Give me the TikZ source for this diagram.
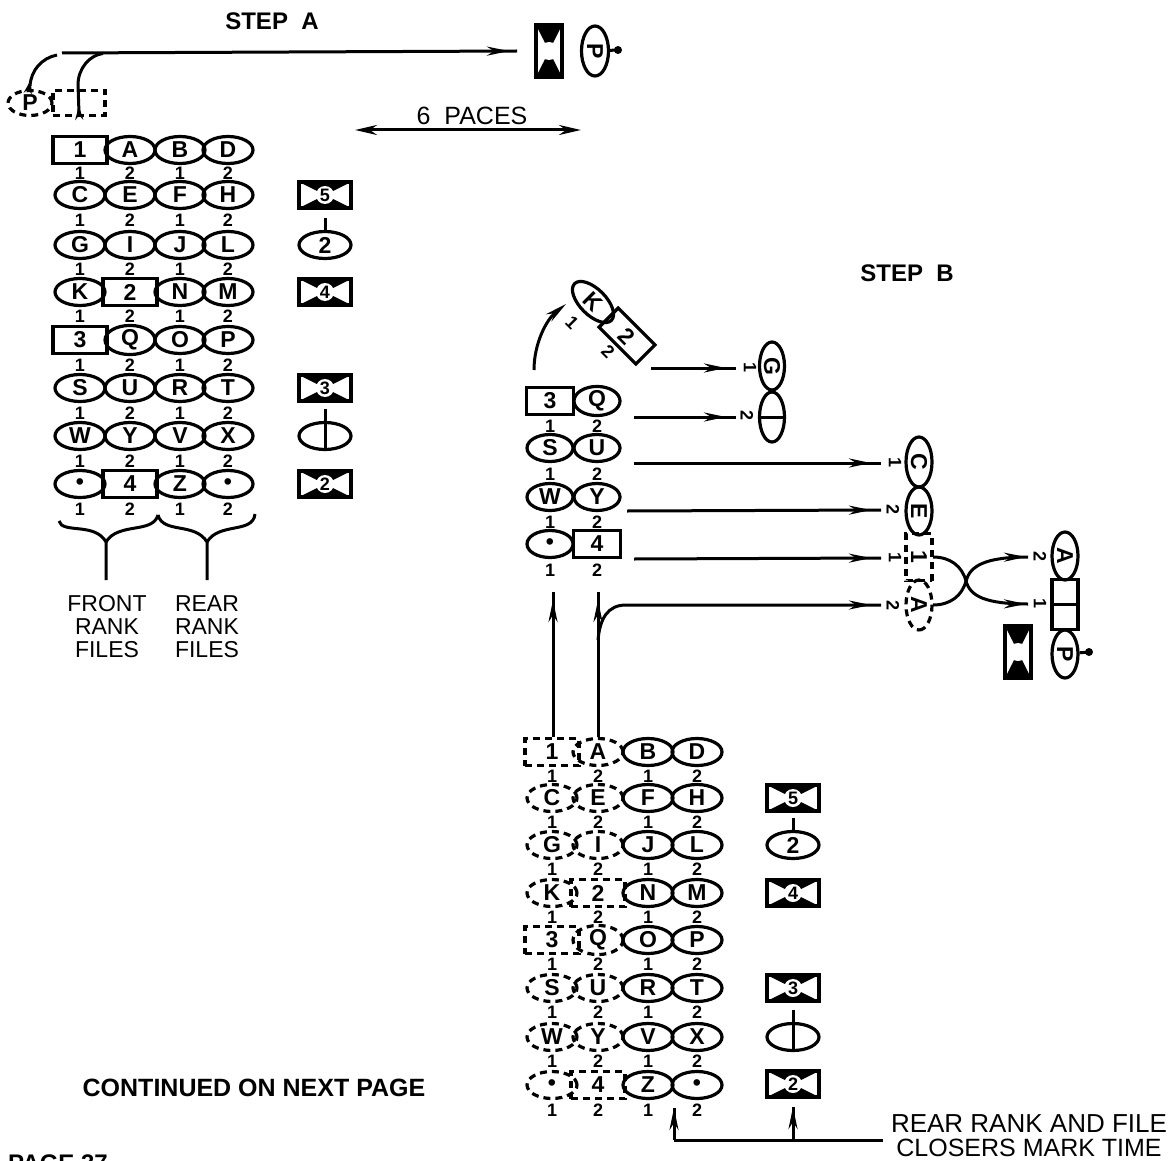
\documentclass[tikz,border=0pt]{standalone}
\usepackage{fontspec}
\setmainfont{Liberation Sans}
\usetikzlibrary{shapes.geometric,arrows.meta,decorations.markings}
\tikzset{
  x=1pt,y=-1pt,
  base/.style={line width=3.2pt,inner sep=0pt,font=\fontsize{23}{23}\selectfont\bfseries},
  ell/.style={base,draw,ellipse,minimum width=50pt,minimum height=27pt},
  rct/.style={base,draw,rectangle,minimum width=54pt,minimum height=27pt},
  dashy/.style={dash pattern=on 7pt off 5pt},
  dell/.style={ell,dashy},
  drct/.style={rct,dashy},
  smallell/.style={ell,minimum width=46pt},
  smallrct/.style={rct,minimum width=47pt},
  num/.style={inner sep=0pt,font=\fontsize{18}{18}\selectfont\bfseries},
  lab/.style={inner sep=0pt,font=\fontsize{23}{23}\selectfont},
  wlab/.style={inner sep=0pt,font=\fontsize{26}{26}\selectfont},
  blab/.style={inner sep=0pt,font=\fontsize{24}{24}\selectfont\bfseries},
  closer/.style={draw,rectangle,line width=4pt,minimum width=52pt,minimum height=26pt,inner sep=0pt,
    font=\fontsize{18}{18}\selectfont\bfseries,
    path picture={
      \fill (path picture bounding box.north west) -- (path picture bounding box.north east) -- (path picture bounding box.center) -- cycle;
      \fill (path picture bounding box.south west) -- (path picture bounding box.south east) -- (path picture bounding box.center) -- cycle;
      \fill[white] (path picture bounding box.center) circle[radius=9pt];
      \begin{scope}[shift={(path picture bounding box.center)},white]
        \fill (-12,-6) -- (-5,-6) -- (-6,-10) -- cycle;
        \fill (12,-6) -- (5,-6) -- (6,-10) -- cycle;
        \fill (-12,6) -- (-5,6) -- (-6,10) -- cycle;
        \fill (12,6) -- (5,6) -- (6,10) -- cycle;
      \end{scope}
    }},
  wire/.style={line width=3pt},
  flow/.style={wire,postaction={decorate},decoration={markings,mark=at position #1 with {\arrow{Stealth[length=22pt,width=9pt]}}}},
  flow/.default={-10pt},
  back/.style={wire,postaction={decorate},decoration={markings,mark=at position #1 with {\arrow{Stealth[length=14pt,width=8pt]}}}},
}
\newcommand\frow[8]{%
  \node[#3] (#1a) at (\xa,#2) {#4};
  \node[#5] (#1b) at (\xb,#2) {#6};
  \node[ell] (#1c) at (\xc,#2) {#7};
  \node[ell] (#1d) at (\xd,#2) {#8};
}
\newcommand\nrow[2]{%
  \node[num] (#1a) at (\xa,#2) {1};
  \node[num] (#1b) at (\xb,#2) {2};
  \node[num] (#1c) at (\xc,#2) {1};
  \node[num] (#1d) at (\xd,#2) {2};
}
\newcommand\leader[5]{% name, x, y, digit, stem end anchor
  \node[ell,minimum width=52pt] (#1) at (#2,#3) {#4};
  \coordinate (#1top) at (#2,#3-27);
  \draw[wire] (#1top) -- (#1.#5);
}
\begin{document}
\begin{tikzpicture}
\useasboundingbox (0,0) rectangle (1172,1161);
\fill[white] (0,0) rectangle (1172,1161);

% ---------- headings
\node[blab] (stepa) at (272,21) {STEP\ \ A};
\node[blab] (stepb) at (907,273) {STEP\ \ B};
\node[inner sep=0pt,font=\fontsize{25}{25}\selectfont] (paces) at (472,116) {6\ \ PACES};
\node[inner sep=0pt,font=\fontsize{25}{25}\selectfont\bfseries] (cont) at (254,1088) {CONTINUED ON NEXT PAGE};
\node[blab,anchor=north west] (page) at (8,1155) {PAGE 37};

% ---------- step A: first formation
\def\xa{80}\def\xb{130}\def\xc{180}\def\xd{228}
\frow{La}{150}{rct}{1}{ell}{A}{B}{D}
\frow{Lb}{195}{ell}{C}{ell}{E}{F}{H}
\frow{Lc}{245}{ell}{G}{ell}{I}{J}{L}
\frow{Ld}{292}{ell}{K}{rct}{2}{N}{M}
\frow{Le}{340}{rct}{3}{ell}{Q}{O}{P}
\frow{Lf}{388}{ell}{S}{ell}{U}{R}{T}
\frow{Lg}{436}{ell}{W}{ell}{Y}{V}{X}
\frow{Lh}{484}{ell}{\textbullet}{rct}{4}{Z}{\textbullet}
\nrow{Na}{173}\nrow{Nb}{220}\nrow{Nc}{269}\nrow{Nd}{316}
\nrow{Ne}{365}\nrow{Nf}{413}\nrow{Ng}{461}\nrow{Nh}{509}
\node[closer] (Lc5) at (325,195) {5};
\leader{Lc2}{325}{245}{2}{north}
\node[closer] (Lc4) at (325,292) {4};
\node[closer] (Lc3) at (325,388) {3};
\leader{Lc1}{325}{436}{}{south}
\node[closer] (Lc0) at (325,484) {2};

% braces
\coordinate (brL) at (59,521);
\coordinate (brM) at (158,515);
\coordinate (brR) at (255,514);
\coordinate (brA) at (106,580);
\coordinate (brB) at (207,580);
\draw[wire] (brL) .. controls (62,534) and (95,522) .. (106,542) -- (brA);
\draw[wire] (brM) .. controls (153,534) and (118,522) .. (106,542);
\draw[wire] (brM) .. controls (163,534) and (195,522) .. (207,542) -- (brB);
\draw[wire] (brR) .. controls (253,534) and (219,522) .. (207,542);
\node[lab] (fr1) at (107,604) {FRONT};
\node[lab] (fr2) at (107,627) {RANK};
\node[lab] (fr3) at (107,650) {FILES};
\node[lab] (re1) at (207,604) {REAR};
\node[lab] (re2) at (207,627) {RANK};
\node[lab] (re3) at (207,650) {FILES};

% ---------- top: dashed origin and final place of the two
\node[ell,dashy,minimum width=44pt,minimum height=25pt] (oldP) at (30,103) {P};
\node[rct,dashy,minimum width=52pt,minimum height=25pt] (oldB) at (79,103) {};
\node[closer,rotate=-90] (topbox) at (549,51) {};
\node[ell,rotate=-90] (topP) at (595,51) {P};
\coordinate (topdot) at (618,50);
\draw[wire] (topP) -- (topdot);
\fill (topdot) circle[radius=4pt];
\coordinate (topA) at (62,53);
\coordinate (topB) at (517,51);
\coordinate (topC) at (30,86);
\coordinate (topD) at (57,55);
\coordinate (topE) at (103,53.5);
\coordinate (topF) at (79,113);
\draw[flow=-8pt] (topA) -- (topB);
\draw[back=0.14] (topC) .. controls (31,70) and (42,58) .. (topD);
\draw[back=0.1] (topF) -- (78,85) .. controls (78,68) and (90,55) .. (topE);

% 6 paces
\coordinate (pacL) at (355,130);
\coordinate (pacR) at (581,130);
\draw[wire,{Stealth[length=22pt,width=10pt]}-{Stealth[length=22pt,width=10pt]}] (pacL) -- (pacR);

% ---------- step B: column moving off
\node[smallrct] (B3) at (550,401) {3};
\node[smallell] (BQ) at (597,401) {Q};
\node[smallell] (BS) at (550,448) {S};
\node[smallell] (BU) at (597,448) {U};
\node[smallell] (BW) at (550,497) {W};
\node[smallell] (BY) at (597,497) {Y};
\node[smallell] (Bd) at (550,544) {\textbullet};
\node[smallrct] (B4) at (597,544) {4};
\foreach \n/\x/\y/\t in {a/550/426/1,b/597/426/2,c/550/474/1,d/597/474/2,e/550/522/1,f/597/522/2,g/550/570/1,h/597/570/2}
  \node[num] (BN\n) at (\x,\y) {\t};
\node[ell,rotate=-45,minimum width=52pt,minimum height=26pt] (BK) at (593,302) {K};
\node[rct,rotate=-45,minimum width=52pt,minimum height=27pt] (B2) at (627,336) {2};
\node[num,rotate=-45] (BKn) at (572,323) {1};
\node[num,rotate=-45] (B2n) at (608,352) {2};
\coordinate (cuA) at (534,370);
\coordinate (cuB) at (566,304);
\draw[wire,-{Stealth[length=22pt,width=9pt]}] (cuA) .. controls (534,344) and (546,320) .. (cuB);

% arrows to the new positions
\coordinate (a1s) at (651,368);\coordinate (a1e) at (736,368);
\coordinate (a2s) at (634,417);\coordinate (a2e) at (736,417);
\coordinate (a3s) at (634,463);\coordinate (a3e) at (881,463);
\coordinate (a4s) at (627,511);\coordinate (a4e) at (881,510);
\coordinate (a5s) at (634,559);\coordinate (a5e) at (881,558);
\coordinate (a6s) at (598,640);\coordinate (a6e) at (881,605);
\draw[flow] (a1s) -- (a1e);
\draw[flow] (a2s) -- (a2e);
\draw[flow] (a3s) -- (a3e);
\draw[flow] (a4s) -- (a4e);
\draw[flow] (a5s) -- (a5e);
\draw[flow] (a6s) .. controls (600,618) and (608,605) .. (626,605) -- (a6e);

\node[num,rotate=-90] (n1) at (750,368) {1};
\node[num,rotate=-90] (n2) at (747,416) {2};
\node[ell,rotate=-90,minimum height=25pt,minimum width=48pt] (vG) at (772,366) {G};
\node[ell,rotate=-90,minimum height=25pt,minimum width=50pt] (vI) at (772,417) {};
\draw[wire] (vI.north) -- (vI.south);

\node[num,rotate=-90] (n3) at (895,463) {1};
\node[num,rotate=-90] (n4) at (893,510) {2};
\node[num,rotate=-90] (n5) at (895,558) {1};
\node[num,rotate=-90] (n6) at (893,605) {2};
\node[ell,rotate=-90,minimum height=26pt,minimum width=50pt] (vC) at (919,462) {C};
\node[ell,rotate=-90,minimum height=26pt,minimum width=48pt] (vE) at (919,511) {E};
\node[rct,dashy,rotate=-90,minimum height=26pt,minimum width=47pt] (v1) at (919,557) {1};
\node[ell,dashy,rotate=-90,minimum height=26pt,minimum width=50pt] (vA) at (919,605) {A};

% crossing
\coordinate (xc) at (966,581);
\coordinate (xa) at (933,557);
\coordinate (xb) at (933,605);
\coordinate (xd) at (1028,557);
\coordinate (xe) at (1028,604);
\draw[wire] (xa) .. controls (950,557) and (962,566) .. (xc);
\draw[wire] (xb) .. controls (950,605) and (962,596) .. (xc);
\draw[flow=-2pt] (xc) .. controls (970,566) and (985,557) .. (xd);
\draw[flow=-2pt] (xc) .. controls (970,596) and (985,604) .. (xe);
\node[num,rotate=-90] (n7) at (1040,557) {2};
\node[num,rotate=-90] (n8) at (1040,604) {1};
\node[ell,rotate=-90,minimum height=26pt,minimum width=48pt] (wA) at (1065,556) {A};
\node[rct,rotate=-90,minimum height=26pt,minimum width=25pt] (wr1) at (1065,592) {};
\node[rct,rotate=-90,minimum height=26pt,minimum width=25pt] (wr2) at (1065,617) {};
\node[ell,rotate=-90,minimum height=26pt,minimum width=48pt] (wP) at (1065,654) {P};
\coordinate (wdot) at (1089,652);
\draw[wire] (wP) -- (wdot);
\fill (wdot) circle[radius=4pt];
\node[closer,rotate=-90] (wbox) at (1018,652) {};

% ---------- lower formation
\def\xa{552}\def\xb{598}\def\xc{648}\def\xd{697}
\frow{Ma}{752}{drct}{1}{dell}{A}{B}{D}
\frow{Mb}{798}{dell}{C}{dell}{E}{F}{H}
\frow{Mc}{845}{dell}{G}{dell}{I}{J}{L}
\frow{Md}{893}{dell}{K}{drct}{2}{N}{M}
\frow{Me}{940}{drct}{3}{dell}{Q}{O}{P}
\frow{Mf}{988}{dell}{S}{dell}{U}{R}{T}
\frow{Mg}{1037}{dell}{W}{dell}{Y}{V}{X}
\frow{Mh}{1085}{dell}{\textbullet}{drct}{4}{Z}{\textbullet}
\nrow{Oa}{776}\nrow{Ob}{822}\nrow{Oc}{869}\nrow{Od}{917}
\nrow{Oe}{964}\nrow{Of}{1012}\nrow{Og}{1061}\nrow{Oh}{1110}
\node[closer] (Mc5) at (793,798) {5};
\leader{Mc2}{793}{845}{2}{north}
\node[closer] (Mc4) at (793,893) {4};
\node[closer] (Mc3) at (793,988) {3};
\leader{Mc1}{793}{1037}{}{south}
\node[closer] (Mc0) at (793,1084) {2};

% up arrows
\coordinate (u1s) at (553,737);\coordinate (u1e) at (553,592);
\coordinate (u2s) at (598,737);\coordinate (u2e) at (598,592);
\draw[flow=-8pt] (u1s) -- (u1e);
\draw[flow=-8pt] (u2s) -- (u2e);

% mark time
\coordinate (mtL) at (674,1108);
\coordinate (mtM) at (793,1107);
\coordinate (mtC) at (674,1140);
\coordinate (mtD) at (793,1140);
\coordinate (mtR) at (883,1140);
\draw[wire] (mtC) -- (mtR);
\draw[flow=1] (mtC) -- (mtL);
\draw[flow=1] (mtD) -- (mtM);
\node[wlab] (rr1) at (1029,1124) {REAR RANK AND FILE};
\node[inner sep=0pt,font=\fontsize{25}{25}\selectfont] (rr2) at (1029,1148) {CLOSERS MARK TIME};
\end{tikzpicture}
\end{document}
